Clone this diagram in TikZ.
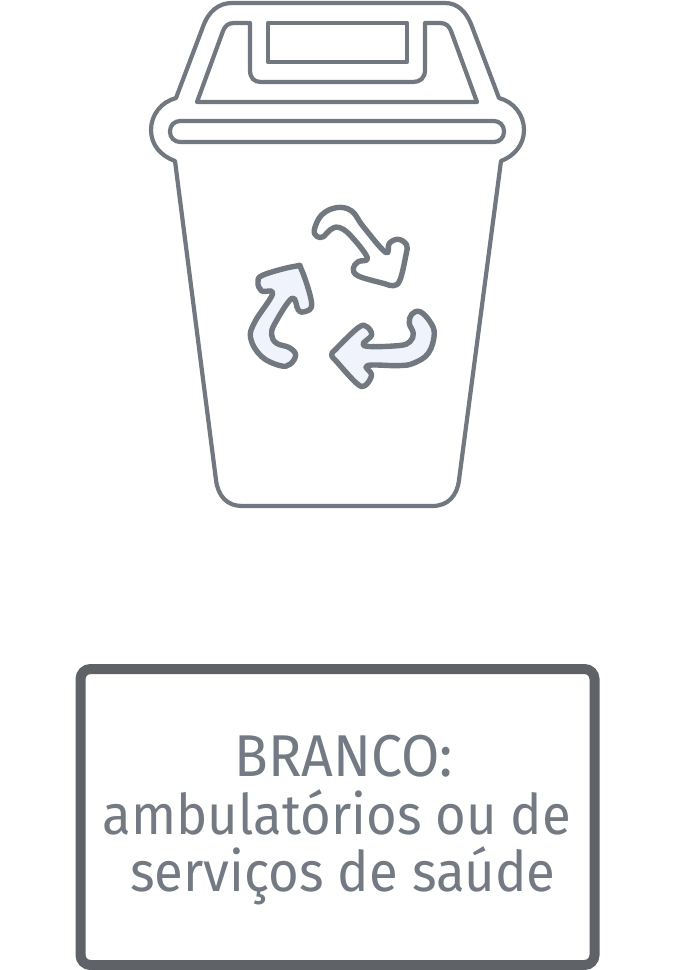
\documentclass[tikz,border=0pt]{standalone}
\usepackage{xcolor}
\usepackage{fontspec}
\setmainfont[FakeStretch=0.94]{Fira Sans}
\definecolor{bingrey}{HTML}{72787F}
\definecolor{framegrey}{HTML}{5F6368}
\definecolor{textgrey}{HTML}{737A83}
\definecolor{arrowfill}{HTML}{F0F3FB}
\tikzset{
  binline/.style={draw=bingrey, line width=4.2pt, line join=round},
  arrowline/.style={draw=bingrey, line width=5.4pt, line join=round},
  labeltext/.style={anchor=base, text=textgrey, font=\fontsize{56}{56}\selectfont, inner sep=0pt}
}
\begin{document}
\begin{tikzpicture}[x=1pt, y=-1pt]
      \useasboundingbox (0, 0) rectangle (679, 970);
      % bin outline
      \draw[binline] (232, 3) -- (445, 3)
        .. controls (458, 3) and (466, 12) .. (471, 24)
        -- (499, 98)
        .. controls (514, 102) and (524, 115) .. (524, 130)
        .. controls (524, 145) and (514, 156) .. (501, 161)
        -- (459, 480)
        .. controls (457, 496) and (448, 506) .. (432, 506)
        -- (242, 506)
        .. controls (227, 506) and (218, 496) .. (216, 480)
        -- (175, 161)
        .. controls (161, 156) and (151, 145) .. (151, 130)
        .. controls (151, 115) and (161, 102) .. (176, 98)
        -- (204, 24)
        .. controls (209, 12) and (218, 3) .. (232, 3) -- cycle;
      % lid
      \draw[binline] (250, 23) -- (234, 23)
        .. controls (228, 23) and (225, 26) .. (223, 31)
        -- (197, 102) -- (477, 102) -- (451, 31)
        .. controls (449, 26) and (446, 23) .. (440, 23)
        -- (425, 23) -- (425, 70)
        .. controls (425, 78) and (420, 82) .. (413, 82)
        -- (261, 82)
        .. controls (254, 82) and (250, 78) .. (250, 70) -- cycle;
      \draw[binline] (268, 23) rectangle (407, 62);
      \draw[binline, rounded corners=10pt] (170, 121) rectangle (504, 142);
      % recycling arrows
      \begin{scope}[x=0.3333pt, y=-0.3333pt, shift={(690, 585)}]
        \draw[arrowline, fill=white] plot[smooth cycle, tension=0.65] coordinates {
          (253,105) (275,60) (320,38) (365,48) (400,95) (467,172) (478,145) (505,133)
          (530,150) (528,180) (510,255) (490,272) (460,265) (385,243) (370,220) (385,200)
          (412,188) (360,120) (325,97) (300,105) (280,125) (262,125)};
        \draw[arrowline, fill=arrowfill] plot[smooth cycle, tension=0.65] coordinates {
          (197,480) (180,508) (150,512) (95,485) (62,430) (75,380) (128,296) (95,288)
          (84,262) (100,240) (195,214) (215,225) (245,325) (225,350) (205,345) (186,310)
          (135,385) (125,420) (140,445) (178,458)};
        \draw[arrowline, fill=arrowfill] plot[smooth cycle, tension=0.65] coordinates {
          (305,480) (320,460) (385,398) (410,395) (425,420) (402,452) (505,452) (540,440)
          (550,415) (538,385) (545,358) (570,350) (600,380) (613,418) (595,475) (550,505)
          (505,512) (412,512) (425,540) (405,572) (380,565) (320,500)};
      \end{scope}
      % label frame
      \draw[draw=framegrey, line width=10pt, rounded corners=10pt]
        (80.5, 669) rectangle (594.5, 965);
      \node[labeltext, font=\fontsize{59}{59}\selectfont] (branco) at (344, 776) {BRANCO:};
      \node[labeltext] (ambul) at (337, 834) {ambulatórios ou de};
      \node[labeltext] (servicos) at (343, 891) {serviços de saúde};
    \end{tikzpicture}
\end{document}
